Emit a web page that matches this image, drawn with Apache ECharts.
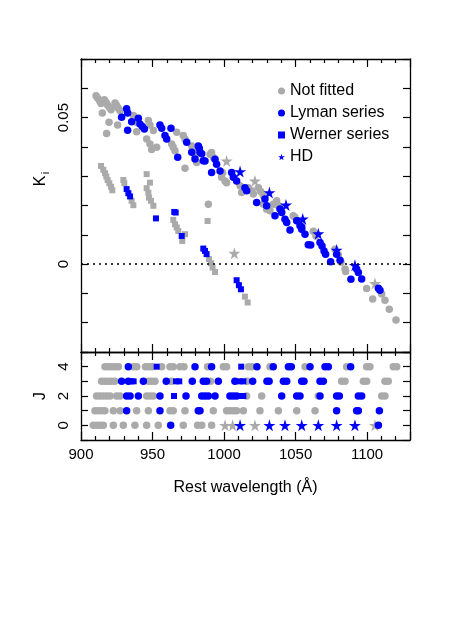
<!DOCTYPE html>
<html>
<head>
<meta charset="utf-8">
<script src="https://cdn.jsdelivr.net/npm/echarts@6/dist/echarts.min.js"></script>
<style>
  html, body { margin: 0; padding: 0; background: #fff; }
  #chart { width: 450px; height: 636px; }
</style>
</head>
<body>
<div id="chart"></div>
<script>
// K_i against rest wavelength, upper panel: [wavelength, K]
var kNotFit = [
  [910.5, 0.0575], [911.7, 0.0566], [913.1, 0.0557], [914.0, 0.0548], [914.9, 0.0516],
  [916.3, 0.0561], [917.5, 0.0552], [918.6, 0.0543], [919.8, 0.0535], [921.0, 0.0527],
  [919.6, 0.0484], [917.9, 0.0446], [925.6, 0.0475],
  [923.8, 0.0550], [924.9, 0.0541], [926.1, 0.0532], [927.3, 0.0523],
  [936.6, 0.0507], [937.7, 0.0495], [939.0, 0.0483], [938.9, 0.0452],
  [947.1, 0.0490], [948.2, 0.0475], [950.6, 0.0456], [945.9, 0.0427], [948.2, 0.0410],
  [949.4, 0.0391], [952.9, 0.0399],
  [963.4, 0.0410], [964.5, 0.0399], [965.7, 0.0387], [966.9, 0.0450],
  [971.5, 0.0439], [972.7, 0.0427], [972.7, 0.0327],
  [977.4, 0.0403], [978.5, 0.0386], [979.7, 0.0369], [980.9, 0.0347],
  [990.2, 0.0375], [991.3, 0.0381], [992.5, 0.0364],
  [998.3, 0.0296], [999.0, 0.0312], [1000.7, 0.0284], [1001.8, 0.0278],
  [989.0, 0.0204],
  [1011.2, 0.0267], [1012.3, 0.0244],
  [1017.0, 0.0261], [1019.3, 0.0250], [1020.5, 0.0239],
  [1024.0, 0.0261], [1025.6, 0.0248], [1027.5, 0.0233],
  [1027.5, 0.0204], [1029.8, 0.0187], [1032.1, 0.0182],
  [1034.4, 0.0204], [1036.8, 0.0216], [1038.0, 0.0199], [1040.3, 0.0180],
  [1048.4, 0.0165], [1049.6, 0.0160], [1051.2, 0.0148],
  [1062.4, 0.0112], [1064.3, 0.0096],
  [1077.6, 0.0051], [1079.9, 0.0032], [1081.8, 0.0006], [1084.6, -0.0017], [1085.0, -0.0025],
  [1099.7, -0.0083], [1103.9, -0.0119], [1110.2, -0.0102], [1112.5, -0.0123],
  [1115.5, -0.0154], [1120.2, -0.0191]
]
var kNotFitWerner = [
  [914.0, 0.0335], [915.6, 0.0322], [916.8, 0.0310], [917.7, 0.0299], [918.6, 0.0287],
  [919.8, 0.0276], [921.0, 0.0264], [921.9, 0.0252],
  [929.6, 0.0287], [930.3, 0.0276], [935.4, 0.0216], [936.6, 0.0201],
  [945.9, 0.0307], [948.2, 0.0278], [945.9, 0.0259], [947.1, 0.0244], [947.5, 0.0227],
  [948.9, 0.0216], [950.6, 0.0199],
  [964.5, 0.0151], [965.7, 0.0136], [966.9, 0.0125], [968.0, 0.0113], [972.7, 0.0102],
  [970.8, 0.0079],
  [988.5, 0.0147],
  [989.5, 0.0017], [990.9, 0.0003], [992.0, -0.0012], [993.7, -0.0027],
  [1014.6, -0.0111], [1016.5, -0.0131]
]
var kNotFitHD = [[1001.8, 0.0352], [1021.6, 0.0284], [1007.2, 0.0037], [1105.5, -0.0066]]
var kLyman = [
  [931.9, 0.0530], [932.6, 0.0516], [928.4, 0.0501], [935.4, 0.0486], [932.6, 0.0457],
  [940.1, 0.0498], [941.2, 0.0478], [942.9, 0.0470], [944.3, 0.0461],
  [955.2, 0.0475], [956.4, 0.0464], [958.7, 0.0439], [959.9, 0.0427], [962.9, 0.0464],
  [967.6, 0.0365], [973.9, 0.0416], [977.4, 0.0382], [979.7, 0.0359],
  [982.0, 0.0403], [983.2, 0.0382], [985.5, 0.0353], [982.7, 0.0395], [984.4, 0.0377],
  [986.7, 0.0352], [991.3, 0.0313], [993.7, 0.0358], [994.8, 0.0341], [997.2, 0.0318],
  [1005.3, 0.0313], [1006.5, 0.0296], [1008.8, 0.0284], [1014.6, 0.0261], [1015.8, 0.0250],
  [1022.8, 0.0210], [1028.6, 0.0222], [1029.8, 0.0199], [1035.6, 0.0165],
  [1039.1, 0.0188], [1040.3, 0.0176], [1042.6, 0.0153], [1043.8, 0.0142], [1046.1, 0.0116],
  [1050.8, 0.0148], [1053.1, 0.0131], [1054.3, 0.0119], [1056.6, 0.0102], [1058.9, 0.0066],
  [1054.3, 0.0127], [1060.6, 0.0065], [1067.1, 0.0074], [1068.5, 0.0062], [1069.9, 0.0045],
  [1071.0, 0.0034], [1074.5, 0.0008], [1078.7, 0.0034], [1081.1, 0.0013],
  [1092.7, -0.0017], [1093.9, -0.0029], [1096.2, -0.0051], [1088.7, -0.0052],
  [1107.9, -0.0082], [1109.0, -0.0089]
]
var kWerner = [
  [931.9, 0.0256], [933.1, 0.0242], [934.3, 0.0231], [952.4, 0.0156], [965.2, 0.0178],
  [966.2, 0.0176], [970.4, 0.0096], [985.5, 0.0053], [986.7, 0.0045], [987.8, 0.0034],
  [1008.8, -0.0055], [1010.4, -0.0072], [1011.8, -0.0086]
]
var kHD = [
  [1011.2, 0.0316], [1031.7, 0.0244], [1043.3, 0.0202], [1055.0, 0.0154],
  [1065.9, 0.0104], [1078.7, 0.0048], [1091.5, -0.0004]
]

// lower panel: wavelengths of the lines, one list per J (index = J)
var jNotFit = [
  [908.6, 911.0, 913.3, 915.6, 922.6, 929.6, 937.7, 945.9, 954.0, 971.5, 981.5, 984.4, 991.3],
  [909.8, 912.1, 914.4, 916.7, 922.6, 927.3, 938.9, 947.1, 962.2, 964.5, 972.7, 992.5,
    1001.8, 1004.1, 1006.5, 1008.8, 1013.5, 1025.1, 1038.0, 1050.8, 1063.6],
  [910.9, 913.3, 915.6, 918.0, 920.3, 924.9, 927.3, 945.9, 948.2, 950.6, 1015.8, 1026.3,
    1065.9, 1110.2, 1112.5],
  [914.4, 916.7, 919.0, 921.3, 923.6, 947.1, 949.4, 951.7, 963.0, 990.5, 1016.0,
    1082.2, 1084.6, 1097.4, 1099.7, 1112.5, 1114.8],
  [916.8, 919.1, 921.4, 923.8, 926.1, 936.6, 939.0, 945.1, 947.4, 949.6, 956.4, 962.2,
    964.5, 969.2, 972.0, 988.5, 999.5, 1001.8, 1017.0, 1019.5, 1032.1, 1056.6, 1085.7,
    1099.7, 1102.0, 1118.3, 1120.7]
]
var jNotFitHD = [1000.7, 1006.0, 1021.6, 1105.5]
var jLyman = [
  [962.7, 1107.9],
  [931.9, 955.2, 982.0, 983.2, 1078.7, 1092.7, 1093.9, 1108.6],
  [931.9, 934.3, 940.1, 955.2, 973.4, 984.4, 986.7, 989.0, 993.7, 1004.1, 1006.5, 1008.8,
    1040.3, 1050.8, 1053.1, 1067.1, 1078.7, 1080.6, 1093.9, 1096.2],
  [928.4, 933.1, 943.6, 959.6, 977.8, 985.5, 987.8, 996.0, 1007.6, 1020.0, 1030.0, 1031.5,
    1041.5, 1043.8, 1054.3, 1055.9, 1067.1, 1069.4],
  [933.1, 979.7, 991.3, 1023.0, 1034.4, 1045.0, 1047.0, 1060.1, 1070.6, 1072.9, 1088.5]
]
var jWerner = [
  [],
  [],
  [965.0, 1011.1, 1013.5],
  [935.0, 936.8, 966.4, 968.7, 1011.1, 1013.5],
  [952.9, 1012.0]
]
var jHD = [1011.2, 1031.7, 1042.6, 1054.3, 1065.9, 1078.7, 1091.5]

var GREY = '#aaaaaa'
var BLUE = '#0000ff'
var FONT = 'Liberation Sans'
var STAR = 'path://M50,0 L61,35 L98,35 L68,57 L79,91 L50,70 L21,91 L32,57 L2,35 L39,35 Z'

function byJ(rows) {
  var out = []
  rows.forEach(function(list, j) {
    list.forEach(function(w) { out.push([w, j]) })
  })
  return out
}
function atJ0(list) {
  return list.map(function(w) { return [w, 0] })
}

function xAxisFor(grid, pos, labels) {
  return {
    type: 'value', gridIndex: grid, position: pos, min: 900, max: 1130, interval: 50,
    axisLine: { show: true, onZero: false, lineStyle: { color: '#000', width: 1.3 } },
    axisTick: { show: true, inside: true, length: 8, lineStyle: { color: '#000', width: 1.2 } },
    minorTick: { show: true, splitNumber: 5, length: 4, lineStyle: { color: '#000', width: 1.2 } },
    splitLine: { show: false },
    axisLabel: {
      show: labels, margin: 7, color: '#000', fontFamily: FONT, fontSize: 15,
      formatter: function(v) { return v % 50 === 0 ? String(v) : '' }
    },
    name: labels ? 'Rest wavelength (Å)' : '',
    nameLocation: 'middle', nameGap: 40,
    nameTextStyle: { color: '#000', fontFamily: FONT, fontSize: 16 }
  }
}
function yAxisFor(grid, pos, min, max, step, fmt) {
  return {
    type: 'value', gridIndex: grid, position: pos, min: min, max: max, interval: step,
    axisLine: { show: true, onZero: false, lineStyle: { color: '#000', width: 1.3 } },
    axisTick: { show: true, inside: true, length: 7, lineStyle: { color: '#000', width: 1.2 } },
    splitLine: { show: false },
    axisLabel: {
      show: !!fmt, rotate: 90, margin: 10, color: '#000', fontFamily: FONT, fontSize: 15,
      formatter: fmt
    }
  }
}

function scatter(name, data, x, y, symbol, size, color, z) {
  return {
    type: 'scatter', name: name, data: data, xAxisIndex: x, yAxisIndex: y,
    symbol: symbol, symbolSize: size, itemStyle: { color: color, opacity: 1 },
    z: z, silent: true, animation: false
  }
}

var chart = echarts.init(document.getElementById('chart'), null, { renderer: 'canvas' })
chart.setOption({
  backgroundColor: '#fff',
  animation: false,
  grid: [
    { left: 81, right: 40, top: 59, height: 293 },
    { left: 81, right: 40, top: 352, height: 88 }
  ],
  xAxis: [
    xAxisFor(0, 'bottom', false),
    xAxisFor(0, 'top', false),
    xAxisFor(1, 'bottom', true),
    xAxisFor(1, 'top', false)
  ],
  yAxis: [
    yAxisFor(0, 'left', -0.03, 0.07, 0.01, function(v) {
      if (Math.abs(v) < 1e-9) return '0'
      if (Math.abs(v - 0.05) < 1e-9) return '0.05'
      return ''
    }),
    yAxisFor(0, 'right', -0.03, 0.07, 0.01, null),
    yAxisFor(1, 'left', -1, 5, 1, function(v) {
      return (v === 0 || v === 2 || v === 4) ? String(v) : ''
    }),
    yAxisFor(1, 'right', -1, 5, 1, null)
  ],
  legend: {
    orient: 'vertical', left: 273, top: 78, itemGap: 6,
    itemWidth: 7, itemHeight: 7,
    textStyle: { color: '#000', fontFamily: FONT, fontSize: 16 },
    selectedMode: false,
    data: [
      { name: 'Not fitted', icon: 'circle', itemStyle: { color: GREY } },
      { name: 'Lyman series', icon: 'circle', itemStyle: { color: BLUE } },
      { name: 'Werner series', icon: 'rect', itemStyle: { color: BLUE } },
      { name: 'HD', icon: STAR, itemStyle: { color: BLUE } }
    ]
  },
  graphic: [
    { type: 'text', x: 41, y: 181, rotation: Math.PI / 2,
      style: { text: 'K', font: '16px "Liberation Sans"', fill: '#000', align: 'center', verticalAlign: 'middle' } },
    { type: 'text', x: 45.5, y: 173, rotation: Math.PI / 2,
      style: { text: 'i', font: '11px "Liberation Sans"', fill: '#000', align: 'center', verticalAlign: 'middle' } },
    { type: 'text', x: 41, y: 396, rotation: Math.PI / 2,
      style: { text: 'J', font: '16px "Liberation Sans"', fill: '#000', align: 'center', verticalAlign: 'middle' } }
  ],
  series: [
    scatter('Not fitted', kNotFit, 0, 0, 'circle', 7.5, GREY, 2),
    scatter('Not fitted', kNotFitWerner, 0, 0, 'rect', 6, GREY, 2),
    scatter('Not fitted', kNotFitHD, 0, 0, STAR, 12, GREY, 2),
    scatter('Lyman series', kLyman, 0, 0, 'circle', 7.5, BLUE, 3),
    scatter('Werner series', kWerner, 0, 0, 'rect', 6, BLUE, 3),
    Object.assign(scatter('HD', kHD, 0, 0, STAR, 12, BLUE, 3), {
      markLine: {
        silent: true, symbol: 'none', label: { show: false },
        lineStyle: { color: '#000', type: [2, 4], width: 1.5 },
        data: [{ yAxis: 0 }]
      }
    }),
    scatter('Not fitted', byJ(jNotFit), 2, 2, 'circle', 7.5, GREY, 2),
    scatter('Not fitted', atJ0(jNotFitHD), 2, 2, STAR, 12, GREY, 2),
    scatter('Lyman series', byJ(jLyman), 2, 2, 'circle', 7.5, BLUE, 3),
    scatter('Werner series', byJ(jWerner), 2, 2, 'rect', 6, BLUE, 3),
    scatter('HD', atJ0(jHD), 2, 2, STAR, 12, BLUE, 3)
  ]
})
</script>
</body>
</html>
